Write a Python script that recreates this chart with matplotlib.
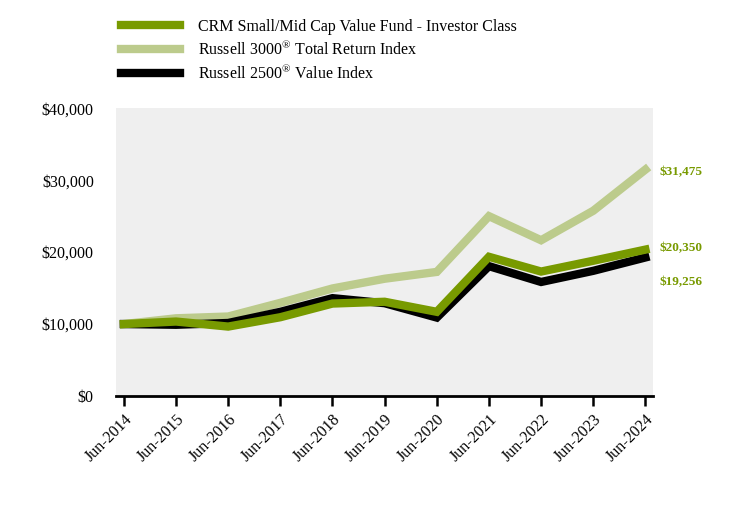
import matplotlib
matplotlib.use("Agg")
import matplotlib.pyplot as plt
from matplotlib.ticker import FuncFormatter

plt.rcParams['font.family'] = ['Liberation Serif', 'DejaVu Serif']
plt.rcParams['mathtext.fontset'] = 'custom'
plt.rcParams['mathtext.rm'] = 'Liberation Serif'

years = ["Jun-2014", "Jun-2015", "Jun-2016", "Jun-2017", "Jun-2018", "Jun-2019",
         "Jun-2020", "Jun-2021", "Jun-2022", "Jun-2023", "Jun-2024"]
fund = [10000, 10350, 9650, 10950, 12850, 13100, 11700, 19350, 17300, 18800, 20350]
r3000 = [10000, 10800, 11050, 12950, 14950, 16300, 17250, 25000, 21650, 25750, 31475]
r2500 = [10000, 9900, 10150, 11700, 13600, 12900, 10900, 18050, 15850, 17400, 19256]

names = ["CRM Small/Mid Cap Value Fund - Investor Class",
         "Russell 3000$^{®}$ Total Return Index",
         "Russell 2500$^{®}$ Value Index"]
end_labels = ["$20,350", "$31,475", "$19,256"]

c_fund = "#789A00"
c_r3000 = "#BCCB8C"
c_r2500 = "#000000"

fig = plt.figure(figsize=(7.44, 5.28), dpi=100)
ax = fig.add_axes([0.156, 0.25, 0.722, 0.545])
ax.set_facecolor("#EFEFEF")

x = list(range(len(years)))
l2, = ax.plot(x, r3000, color=c_r3000, lw=6, solid_joinstyle='miter', zorder=2)
l3, = ax.plot(x, r2500, color=c_r2500, lw=6, solid_joinstyle='miter', zorder=3)
l1, = ax.plot(x, fund, color=c_fund, lw=6, solid_joinstyle='miter', zorder=4)

ax.set_xlim(-0.15, 10.15)
ax.set_ylim(0, 40000)
ax.set_yticks([0, 10000, 20000, 30000, 40000])
ax.yaxis.set_major_formatter(FuncFormatter(lambda v, p: "${:,.0f}".format(v)))
ax.set_xticks(x)
ax.set_xticklabels(years, rotation=45, ha='right', rotation_mode='anchor')

for s in ['top', 'right', 'left']:
    ax.spines[s].set_visible(False)
ax.spines['bottom'].set_linewidth(2)
ax.tick_params(axis='x', length=7, width=1.8, labelsize=11.5, pad=4)
ax.tick_params(axis='y', length=0, labelsize=11.5, pad=16)

ax.annotate(end_labels[1], xy=(10, r3000[-1]), xytext=(10, -2), textcoords='offset points',
            color=c_fund, fontsize=9.5, fontweight='bold', va='center', ha='left',
            annotation_clip=False)
ax.annotate(end_labels[0], xy=(10, fund[-1]), xytext=(10, 1), textcoords='offset points',
            color=c_fund, fontsize=9.5, fontweight='bold', va='center', ha='left',
            annotation_clip=False)
ax.annotate(end_labels[2], xy=(10, r2500[-1]), xytext=(10, -18), textcoords='offset points',
            color=c_fund, fontsize=9.5, fontweight='bold', va='center', ha='left',
            annotation_clip=False)

leg = fig.legend([l1, l2, l3], names, loc='upper left', bbox_to_anchor=(0.162, 0.964),
                 frameon=False, fontsize=11.5, handlelength=3.75, handletextpad=1.1,
                 labelspacing=0.33, borderaxespad=0, borderpad=0)
for h in leg.get_lines():
    h.set_linewidth(6)

fig.savefig("out.png", dpi=100)
